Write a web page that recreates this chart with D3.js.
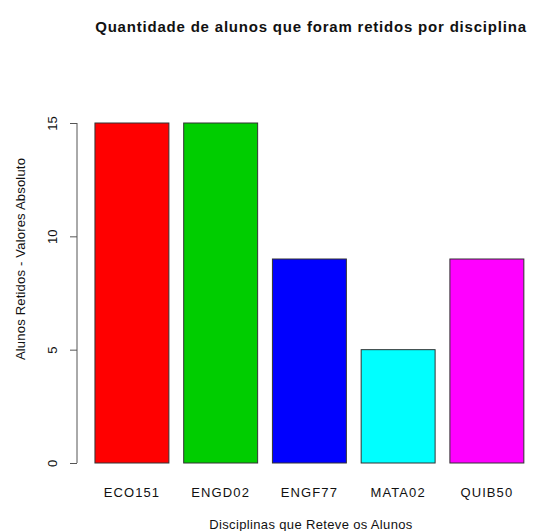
<!DOCTYPE html>
<html><head><meta charset="utf-8">
<script src="https://cdn.jsdelivr.net/npm/d3@7"></script>
<style>body{margin:0;background:#fff}svg{display:block}text{font-family:"Liberation Sans",Arial,sans-serif;fill:#111}</style>
</head><body><svg id="c" width="540" height="531"></svg>
<script>
const categories = ["ECO151","ENGD02","ENGF77","MATA02","QUIB50"];
const values = [15,15,9,5,9];
const colors = ["#FF0000","#00CD00","#0000FF","#00FFFF","#FF00FF"];
const yTicks = [0,5,10,15];
const title = "Quantidade de alunos que foram retidos por disciplina";
const xTitle = "Disciplinas que Reteve os Alunos";
const yTitle = "Alunos Retidos - Valores Absoluto";

const svg = d3.select("#c");
// R barplot user coords: bar i spans [0.2+1.2i, 1.2+1.2i]
const x = d3.scaleLinear().domain([-0.032, 6.232]).range([77.8, 541]);
const y = d3.scaleLinear().domain([-0.6, 15.6]).range([476.6, 109.4]);

svg.selectAll("rect.bar").data(values).join("rect")
  .attr("class","bar")
  .attr("x",(d,i)=>x(0.2+1.2*i))
  .attr("width",(d,i)=>x(1.2+1.2*i)-x(0.2+1.2*i))
  .attr("y",d=>y(d))
  .attr("height",d=>y(0)-y(d))
  .attr("fill",(d,i)=>colors[i])
  .attr("stroke","#333").attr("stroke-width",1);

const yAxis = d3.axisLeft(y).tickValues(yTicks).tickSize(7);
const ga = svg.append("g").attr("transform","translate(77,0)").call(yAxis);
ga.select(".domain").attr("d",`M0,${y(0)}V${y(15)}`).attr("stroke","#555");
ga.selectAll(".tick line").attr("stroke","#555");
ga.selectAll(".tick text").attr("font-size",13).attr("font-family","Liberation Sans, Arial, sans-serif")
  .attr("fill","#111").attr("text-anchor","middle").attr("dy",0).attr("x",0).attr("y",0)
  .attr("transform","translate(-20,0) rotate(-90)");

svg.selectAll("text.xl").data(categories).join("text").attr("class","xl")
  .attr("x",(d,i)=>x(0.7+1.2*i)).attr("y",497)
  .attr("text-anchor","middle").attr("font-size",13).attr("letter-spacing",1.1).text(d=>d);

svg.append("text").attr("x",311).attr("y",529).attr("text-anchor","middle")
  .attr("font-size",13).attr("letter-spacing",0.35).text(xTitle);
svg.append("text").attr("transform","translate(25,259) rotate(-90)")
  .attr("text-anchor","middle").attr("font-size",13).attr("letter-spacing",0.2).text(yTitle);
svg.append("text").attr("x",311).attr("y",32).attr("text-anchor","middle")
  .attr("font-size",15).attr("font-weight","bold").attr("letter-spacing",0.8).text(title);
</script></body></html>
